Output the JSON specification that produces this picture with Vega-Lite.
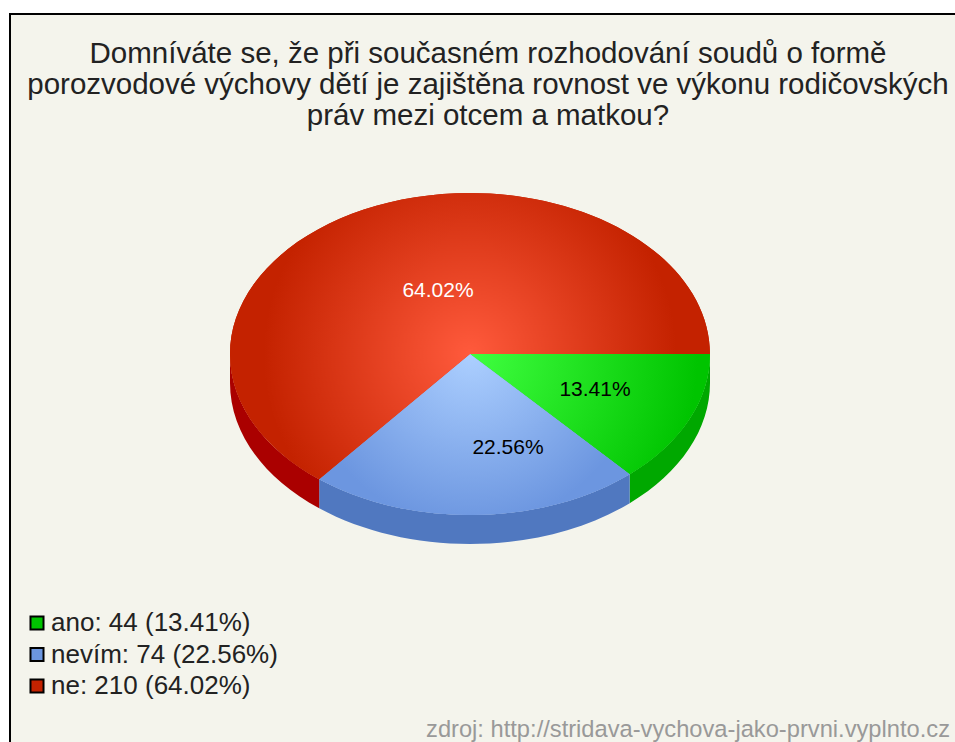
{
"$schema":"https://vega.github.io/schema/vega-lite/v6.json",
"width":946,"height":730,
"autosize":{"type":"none"},
"padding":{"left":10,"top":14,"right":0,"bottom":0},
"background":"#ffffff",
"view":{"fill":"#f4f4ec","stroke":"#000000","strokeWidth":2},
"title":{"text":["Domníváte se, že při současném rozhodování soudů o formě","porozvodové výchovy dětí je zajištěna rovnost ve výkonu rodičovských","práv mezi otcem a matkou?"],"font":"Liberation Sans","fontSize":29.5,"fontWeight":"normal","color":"#222222","lineHeight":31,"anchor":"middle","frame":"group","baseline":"top","offset":0,"dx":5,"dy":117},
"data":{"values":[
{"answer":"ano","count":44,"percent":"13.41%","legendLabel":"ano: 44 (13.41%)"},
{"answer":"nevím","count":74,"percent":"22.56%","legendLabel":"nevím: 74 (22.56%)"},
{"answer":"ne","count":210,"percent":"64.02%","legendLabel":"ne: 210 (64.02%)"}
]},
"layer":[
{"transform":[{"filter":"datum.answer==='ano'"}],"mark":{"type":"point","filled":true,"opacity":1,"size":4,"fill":"#00a800","shape":"M227,-25 A240,161 0 0 1 146.7,95.2 L146.7,124.2 A240,161 0 0 0 227,4 Z"}},
{"transform":[{"filter":"datum.answer==='nevím'"}],"mark":{"type":"point","filled":true,"opacity":1,"size":4,"fill":"#5078c0","shape":"M146.7,95.2 A240,161 0 0 1 -163.8,100.3 L-163.8,129.3 A240,161 0 0 0 146.7,124.2 Z"}},
{"transform":[{"filter":"datum.answer==='ne'"}],"mark":{"type":"point","filled":true,"opacity":1,"size":4,"fill":"#aa0000","shape":"M-163.8,100.3 A240,161 0 0 1 -253,-25 L-253,4 A240,161 0 0 0 -163.8,129.3 Z"}},
{"mark":{"type":"point","filled":true,"opacity":1,"size":4},
 "encoding":{
  "shape":{"field":"answer","type":"nominal","legend":null,"scale":{"domain":["ano","nevím","ne"],"range":["M-13,-25 L227,-25 A240,161 0 0 1 146.7,95.2 Z","M-13,-25 L146.7,95.2 A240,161 0 0 1 -163.8,100.3 Z","M-13,-25 L-163.8,100.3 A240,161 0 1 1 227,-25 Z"]}},
  "color":{"field":"legendLabel","type":"nominal","scale":{"domain":["ano: 44 (13.41%)","nevím: 74 (22.56%)","ne: 210 (64.02%)"],"range":["#00c400","#6c96e0","#c42200"]},
   "legend":{"title":null,"orient":"none","legendX":14,"legendY":596,"symbolType":"square","symbolSize":170,"symbolStrokeColor":"#000000","symbolStrokeWidth":2,"symbolOpacity":1,"labelFont":"Liberation Sans","labelFontSize":26,"labelColor":"#222222","labelOffset":1,"rowPadding":5.5,"labelLimit":400,"symbolOffset":0}}
 }},
{"transform":[{"filter":"datum.answer==='ano'"}],"mark":{"type":"point","filled":true,"opacity":1,"size":4,"shape":"M-13,-25 L227,-25 A240,161 0 0 1 146.7,95.2 Z","fill":{"gradient":"radial","x1":0,"y1":0.25,"r1":0,"x2":0,"y2":0.25,"r2":0.95,"stops":[{"offset":0,"color":"#40ff40"},{"offset":1,"color":"#00c400"}]}}},
{"transform":[{"filter":"datum.answer==='nevím'"}],"mark":{"type":"point","filled":true,"opacity":1,"size":4,"shape":"M-13,-25 L146.7,95.2 A240,161 0 0 1 -163.8,100.3 Z","fill":{"gradient":"radial","x1":0.489,"y1":0.242,"r1":0,"x2":0.489,"y2":0.242,"r2":0.55,"stops":[{"offset":0,"color":"#accfff"},{"offset":1,"color":"#6c96e0"}]}}},
{"transform":[{"filter":"datum.answer==='ne'"}],"mark":{"type":"point","filled":true,"opacity":1,"size":4,"shape":"M-13,-25 L-163.8,100.3 A240,161 0 1 1 227,-25 Z","fill":{"gradient":"radial","x1":0.5,"y1":0.538,"r1":0,"x2":0.5,"y2":0.538,"r2":0.43,"stops":[{"offset":0,"color":"#ff5a3c"},{"offset":1,"color":"#c42200"}]}}},
{"transform":[{"filter":"datum.answer==='ano'"}],"mark":{"type":"text","font":"Liberation Sans","fontSize":21,"color":"#000000","dx":112,"dy":11},"encoding":{"text":{"field":"percent"}}},
{"transform":[{"filter":"datum.answer==='nevím'"}],"mark":{"type":"text","font":"Liberation Sans","fontSize":21,"color":"#000000","dx":25,"dy":69},"encoding":{"text":{"field":"percent"}}},
{"transform":[{"filter":"datum.answer==='ne'"}],"mark":{"type":"text","font":"Liberation Sans","fontSize":21,"color":"#ffffff","dx":-45,"dy":-88},"encoding":{"text":{"field":"percent"}}},
{"data":{"values":[{"source":"zdroj: http://stridava-vychova-jako-prvni.vyplnto.cz"}]},"mark":{"type":"text","font":"Liberation Sans","fontSize":23.7,"color":"#999999","align":"right","dx":467,"dy":351},"encoding":{"text":{"field":"source"}}}
]
}
